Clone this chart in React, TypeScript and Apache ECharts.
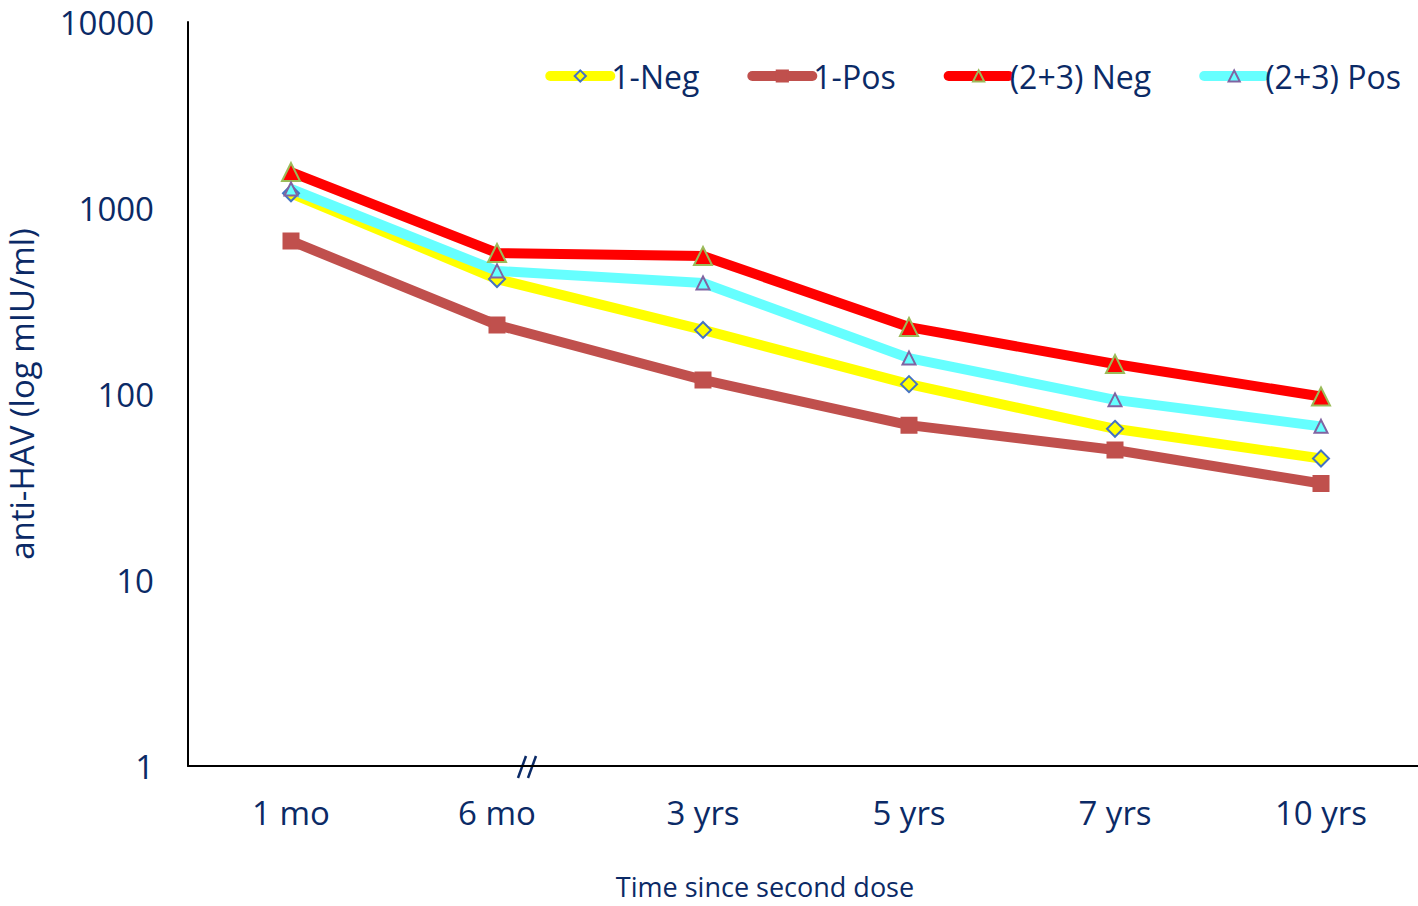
import React, { useEffect, useRef } from "react";
import * as echarts from "echarts";

const categories = ["1 mo", "6 mo", "3 yrs", "5 yrs", "7 yrs", "10 yrs"];
const neg1 = [1200, 415, 221, 113, 65, 45];
const pos1 = [665, 235, 119, 68, 50, 33];
const neg23 = [1560, 573, 552, 229, 145, 97];
const pos23 = [1265, 459, 395, 156, 93, 67];
const yTicks = [1, 10, 100, 1000, 10000];
const xTitle = "Time since second dose";

const TEXT = "#0B2A66";
const FONT = "'Open Sans', 'Noto Sans', sans-serif";

export default function App() {
  const ref = useRef<HTMLDivElement>(null);
  useEffect(() => {
    const chart = echarts.init(ref.current!, null, { renderer: "svg" });
    const mk = (name: string, data: number[], color: string, symbol: string, size: number, fill: string, border: string) => ({
      name,
      type: "line",
      data,
      symbol,
      symbolSize: size,
      lineStyle: { color, width: 10 },
      itemStyle: { color: fill, borderColor: border, borderWidth: 2 },
      emphasis: { disabled: true },
    });
    chart.setOption({
      animation: false,
      textStyle: { fontFamily: FONT },
      grid: { left: 188, top: 22, right: -6, bottom: 140, containLabel: false, outerBoundsMode: "none" },
      legend: {
        right: 12,
        top: 55,
        itemWidth: 60,
        itemHeight: 14,
        itemGap: 48,
        lineStyle: { width: 10, cap: "round" },
        textStyle: { color: TEXT, fontSize: 32, fontFamily: FONT, padding: [0, 0, 0, -4] },
        data: ["1-Neg", "1-Pos", "(2+3) Neg", "(2+3) Pos"],
      },
      xAxis: {
        type: "category",
        data: categories,
        boundaryGap: true,
        axisLine: { lineStyle: { color: "#000", width: 2 } },
        axisTick: { show: false },
        axisLabel: { color: TEXT, fontSize: 33, margin: 30, fontFamily: FONT },
      },
      yAxis: {
        type: "log",
        logBase: 10,
        min: yTicks[0],
        max: yTicks[yTicks.length - 1],
        axisLine: { show: true, lineStyle: { color: "#000", width: 2 } },
        axisTick: { show: false },
        splitLine: { show: false },
        axisLabel: { color: TEXT, fontSize: 33, margin: 34, fontFamily: FONT, formatter: (v: number) => String(v) },
        name: "anti-HAV (log mIU/ml)",
        nameLocation: "middle",
        nameGap: 150,
        nameRotate: 90,
        nameTextStyle: { color: TEXT, fontSize: 33, fontFamily: FONT },
      },
      series: [
        mk("1-Neg", neg1, "#FFFF00", "diamond", 16, "#FFFF00", "#4472C4"),
        mk("1-Pos", pos1, "#C0504D", "rect", 15, "#C0504D", "#C0504D"),
        mk("(2+3) Neg", neg23, "#FF0000", "triangle", 18, "#FF0000", "#9BBB59"),
        mk("(2+3) Pos", pos23, "#66FFFF", "triangle", 13, "#66FFFF", "#8064A2"),
      ],
      graphic: [
        { type: "line", shape: { x1: 518, y1: 778, x2: 526, y2: 756 }, style: { stroke: "#0B2A66", lineWidth: 2.5 } },
        { type: "line", shape: { x1: 528, y1: 778, x2: 536, y2: 756 }, style: { stroke: "#0B2A66", lineWidth: 2.5 } },
        {
          type: "text",
          x: 765,
          y: 886,
          style: { text: xTitle, fill: TEXT, font: `27px ${FONT}`, lineHeight: 27, align: "center", verticalAlign: "middle" },
        },
      ],
    });
    return () => chart.dispose();
  }, []);
  return <div ref={ref} style={{ position: "fixed", left: 0, top: 0, width: 1418, height: 906, background: "#fff" }} />;
}
